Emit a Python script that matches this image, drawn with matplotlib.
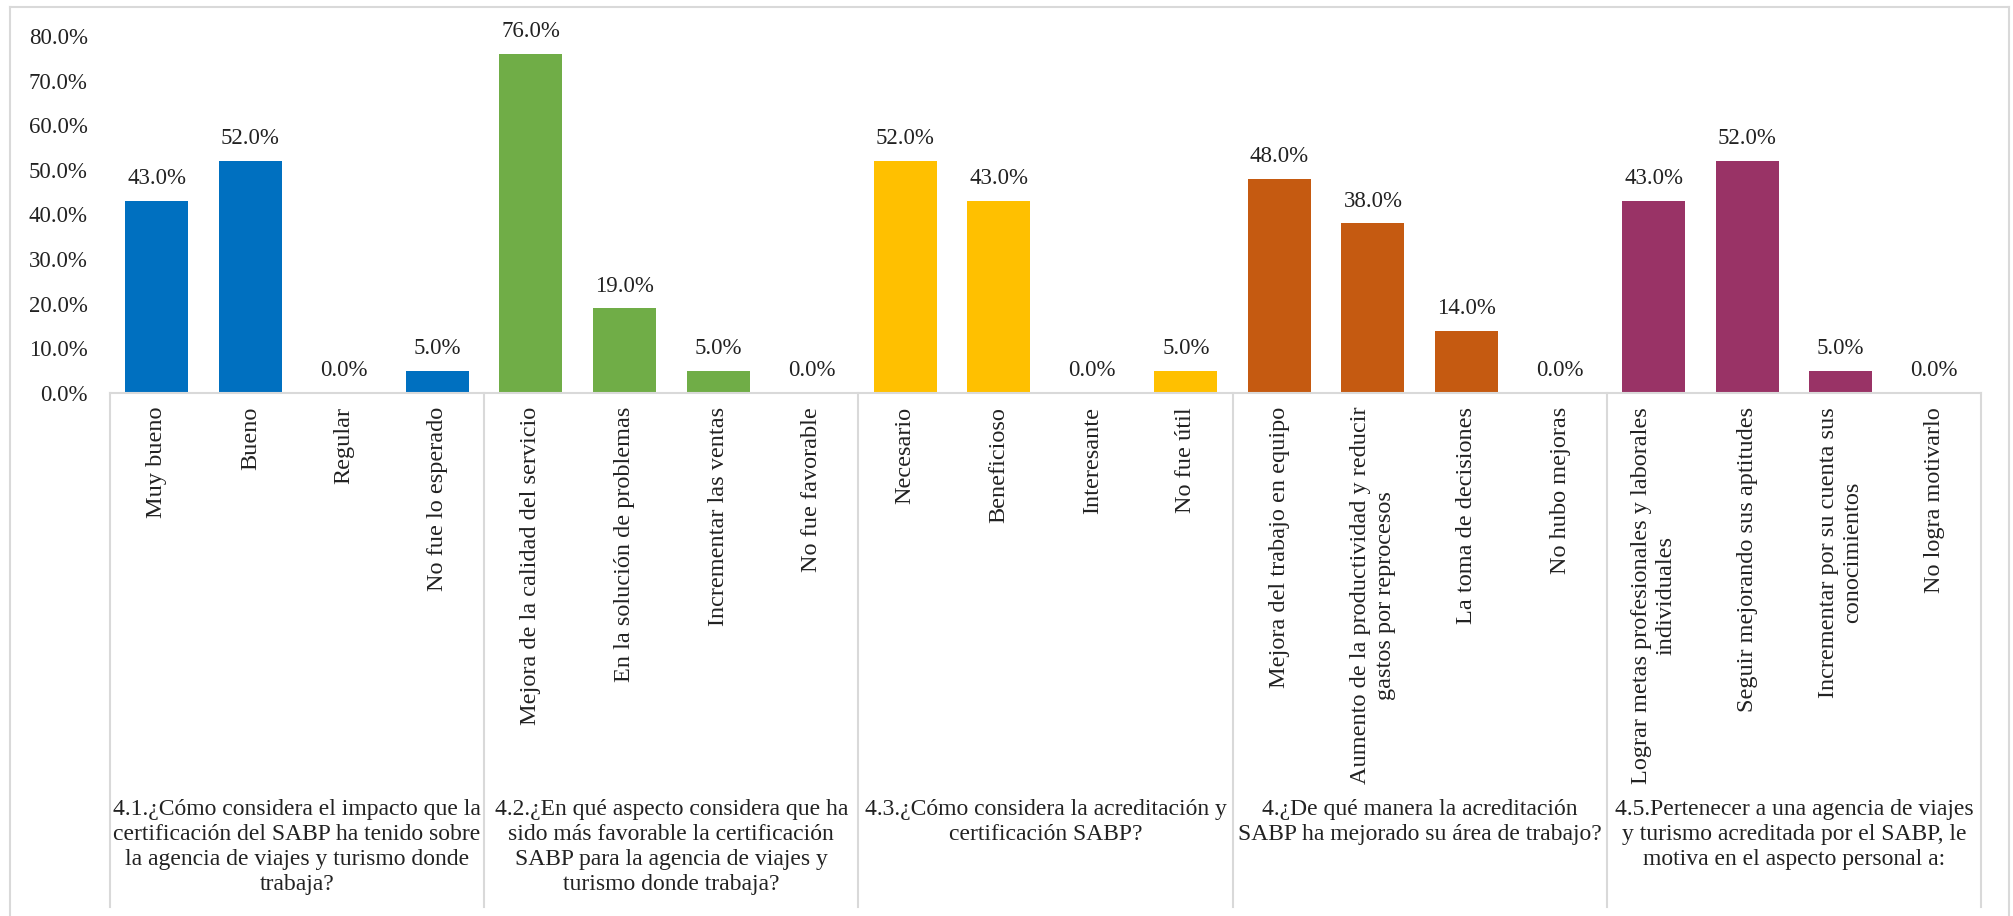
import matplotlib
matplotlib.use("Agg")
import matplotlib.pyplot as plt
import matplotlib.transforms as mtransforms
from matplotlib.lines import Line2D

plt.rcParams['font.family'] = ['Liberation Serif', 'DejaVu Serif']

# survey answers, four per question
categories = [
    "Muy bueno", "Bueno", "Regular", "No fue lo esperado",
    "Mejora de la calidad del servicio", "En la solución de problemas",
    "Incrementar las ventas", "No fue favorable",
    "Necesario", "Beneficioso", "Interesante", "No fue útil",
    "Mejora del trabajo en equipo",
    "Aumento de la productividad y reducir\ngastos por reprocesos",
    "La toma de decisiones", "No hubo mejoras",
    "Lograr metas profesionales y laborales\nindividuales",
    "Seguir mejorando sus aptitudes",
    "Incrementar por su cuenta sus\nconocimientos",
    "No logra motivarlo",
]
percentages = [43.0, 52.0, 0.0, 5.0,
               76.0, 19.0, 5.0, 0.0,
               52.0, 43.0, 0.0, 5.0,
               48.0, 38.0, 14.0, 0.0,
               43.0, 52.0, 5.0, 0.0]
questions = [
    "4.1.¿Cómo considera el impacto que la\ncertificación del SABP ha tenido sobre\n"
    "la agencia de viajes y turismo donde\ntrabaja?",
    "4.2.¿En qué aspecto considera que ha\nsido más favorable la certificación\n"
    "SABP para la agencia de viajes y\nturismo donde trabaja?",
    "4.3.¿Cómo considera la acreditación y\ncertificación SABP?",
    "4.¿De qué manera la acreditación\nSABP ha mejorado su área de trabajo?",
    "4.5.Pertenecer a una agencia de viajes\ny turismo acreditada por el SABP, le\n"
    "motiva en el aspecto personal a:",
]
question_colors = ['#0070C0', '#70AD47', '#FFC000', '#C55A11', '#993366']
yticks = [0, 10, 20, 30, 40, 50, 60, 70, 80]

W, H = 2013, 916
FS = 16.5
fig = plt.figure(figsize=(W / 100, H / 100), dpi=100)
ax = fig.add_axes([110 / W, (H - 393) / H, 1871 / W, 357 / H])

n_per = len(categories) // len(questions)
colors = [question_colors[i // n_per] for i in range(len(categories))]
xs = list(range(len(categories)))
ax.bar(xs, percentages, width=0.673, color=colors, zorder=2)

for x, v in zip(xs, percentages):
    ax.annotate('{:.1f}%'.format(v), (x, v), xytext=(0, 12),
                textcoords='offset points', ha='center', va='baseline',
                fontsize=FS, color='#222222')

ax.set_xlim(-0.5, len(categories) - 0.5)
ax.set_ylim(0, 80)
ax.set_yticks(yticks)
ax.set_yticklabels(['{:.1f}%'.format(t) for t in yticks], fontsize=FS,
                   color='#222222')
ax.tick_params(axis='y', length=0, pad=16)

ax.set_xticks(xs)
ax.set_xticklabels(categories, rotation=90, ha='center', va='top',
                   multialignment='center', fontsize=17.5, color='#222222')
ax.tick_params(axis='x', length=0, pad=10)

for side in ['left', 'right', 'top']:
    ax.spines[side].set_visible(False)
ax.spines['bottom'].set_color('#d9d9d9')
ax.spines['bottom'].set_linewidth(1.5)

# group separators under the category axis
trans = mtransforms.blended_transform_factory(ax.transData, fig.transFigure)
y_top = (H - 393) / H
y_bot = (H - 907) / H
for k in range(len(questions) + 1):
    xb = k * n_per - 0.5
    ax.add_line(Line2D([xb, xb], [y_top, y_bot], transform=trans,
                       color='#d9d9d9', lw=1.5, clip_on=False))

for k, q in enumerate(questions):
    xc = k * n_per + (n_per - 1) / 2
    ax.text(xc, (H - 799) / H, q, transform=trans, ha='center', va='top',
            multialignment='center', fontsize=17, color='#222222',
            linespacing=1.24)

# outer chart frame (open at the bottom)
frame_kw = dict(color='#d9d9d9', lw=1.5, transform=fig.transFigure)
x0, x1, yt = 10 / W, 2009 / W, (H - 7) / H
fig.add_artist(Line2D([x0, x0], [0, yt], **frame_kw))
fig.add_artist(Line2D([x0, x1], [yt, yt], **frame_kw))
fig.add_artist(Line2D([x1, x1], [yt, 0], **frame_kw))

fig.savefig('out.png', dpi=100, facecolor='white')
